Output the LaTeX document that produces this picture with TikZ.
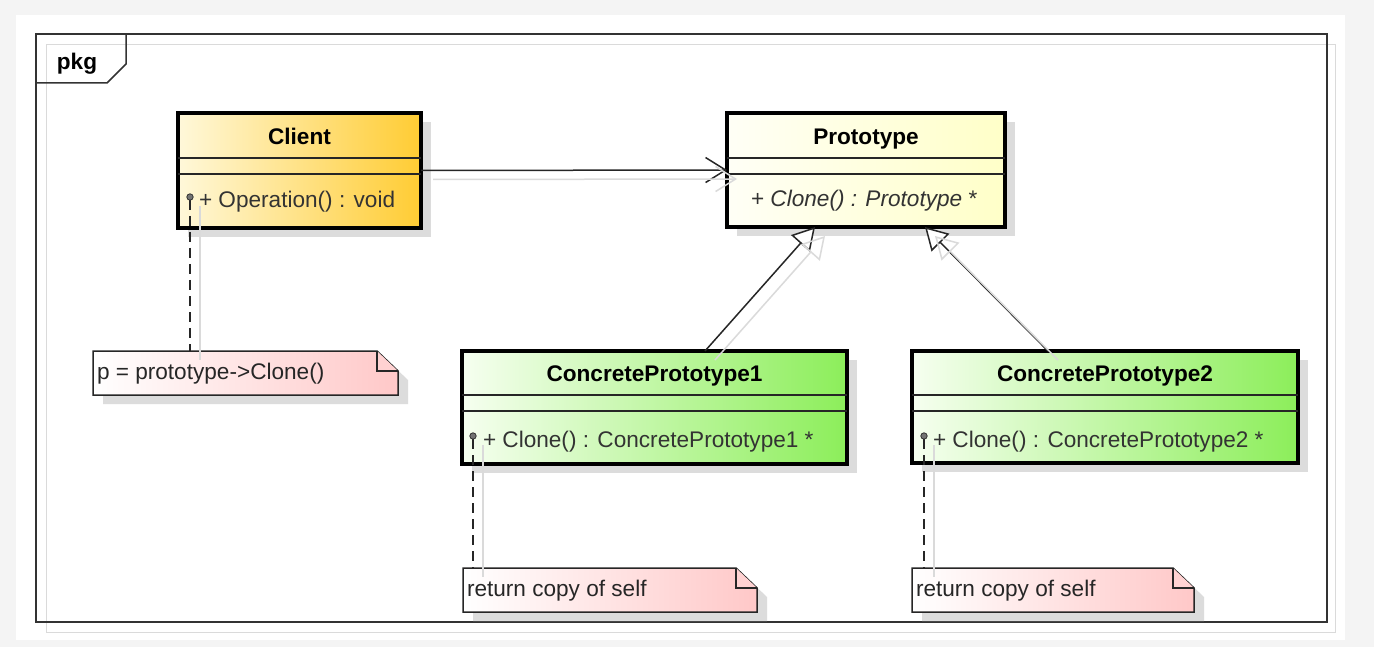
\documentclass[tikz,border=0pt]{standalone}
\usepackage{fontspec}
\setmainfont{Liberation Sans}
\usetikzlibrary{arrows.meta,shadows,calc}
\definecolor{bggray}{HTML}{F4F4F4}
\definecolor{shadowgray}{HTML}{DCDCDC}
\definecolor{lineshadow}{HTML}{DADADA}
\definecolor{frameline}{HTML}{333333}
\definecolor{clientL}{HTML}{FFF8DA}
\definecolor{clientR}{HTML}{FFCC33}
\definecolor{protoL}{HTML}{FFFFF6}
\definecolor{protoR}{HTML}{FFFFC8}
\definecolor{cpL}{HTML}{F6FFF0}
\definecolor{cpR}{HTML}{8CEE5A}
\definecolor{noteR}{HTML}{FFC8C8}
\definecolor{noteFold}{HTML}{FFD2D2}
\definecolor{optext}{HTML}{333333}
\newcommand\umlnote[6]{%
  \fill[shadowgray] (#2+10,#3+9) -- (#4-11,#3+9) -- (#4+10,#3+29) -- (#4+10,#5+9) -- (#2+10,#5+9) -- cycle;
  \node[anchor=north west, minimum width=#4pt-#2pt, minimum height=#5pt-#3pt] (#1) at (#2,#3) {};
  \shadedraw[left color=white, right color=noteR, draw=black!85, line width=1.5pt]
    (#1.north west) -- ([xshift=-21pt]#1.north east) -- ([yshift=-20pt]#1.north east)
    -- (#1.south east) -- (#1.south west) -- cycle;
  \filldraw[fill=noteFold, draw=black!85, line width=1.5pt]
    ([xshift=-21pt]#1.north east) -- ([xshift=-21pt,yshift=-20pt]#1.north east) -- ([yshift=-20pt]#1.north east);
  \node[anchor=base west, text=black!85] (#1-text) at (#2+4,#3+28.5) {#6};
}
\begin{document}
\begin{tikzpicture}[x=1pt,y=-1pt,
  every node/.style={inner sep=0pt, outer sep=0pt},
  font=\fontsize{22.6pt}{26pt}\selectfont,
  classbox/.style={draw=black, line width=3.5pt, anchor=north west,
    drop shadow={shadow xshift=10pt, shadow yshift=-9pt, fill=shadowgray, opacity=1}},
  comp/.style={line width=1.3pt, draw=black!85},
  title/.style={anchor=base, font=\fontsize{22.6pt}{26pt}\selectfont\bfseries},
  optext/.style={anchor=base west, text=optext},
  conn/.style={line width=1.5pt, draw=black!85},
  lshadow/.style={line width=1.5pt, draw=lineshadow},
  dashconn/.style={line width=1.5pt, dash pattern=on 10pt off 6pt, draw=black!85},
  assoc/.style={conn, -{Straight Barb[length=20pt,width=25pt,line width=1.5pt]}},
  gen/.style={conn, -{Triangle[length=22pt,width=25pt,fill=white,line width=1.5pt]}},
  pin/.style={draw=black!80, fill=black!55, line width=0.8pt},
]
\useasboundingbox (0,0) rectangle (1374,647);
\fill[bggray] (0,0) rectangle (1374,647);
\fill[white] (16,15) rectangle (1345,640);

% package frame
\draw[lineshadow] (46,44) rectangle (1335,632);
\node[draw=frameline, line width=1.5pt, anchor=north west, minimum width=1291pt, minimum height=588pt] (pkg) at (36,34) {};
\draw[frameline, line width=1.5pt] (126,34) -- (126,64) -- (107,83) -- (36,83);
\node[title, anchor=base] (pkglabel) at (77,70) {pkg};

% classes
\node[classbox, left color=clientL, right color=clientR, minimum width=243pt, minimum height=115pt] (client) at (178,113) {};
\draw[comp] ([yshift=-45pt]client.north west) -- ([yshift=-45pt]client.north east);
\draw[comp] ([yshift=-61pt]client.north west) -- ([yshift=-61pt]client.north east);
\node[title] (client-title) at (299.5,145) {Client};
\node[optext] (client-op) at (199,208) {+ Operation() : void};

\node[classbox, left color=protoL, right color=protoR, minimum width=278pt, minimum height=114pt] (proto) at (727,113) {};
\draw[comp] ([yshift=-45pt]proto.north west) -- ([yshift=-45pt]proto.north east);
\draw[comp] ([yshift=-61pt]proto.north west) -- ([yshift=-61pt]proto.north east);
\node[title] (proto-title) at (866,145) {Prototype};
\node[optext] (proto-op) at (751,207) {+ \textit{Clone() : Prototype} *};

\node[classbox, left color=cpL, right color=cpR, minimum width=385pt, minimum height=113pt] (cp1) at (462,351) {};
\draw[comp] ([yshift=-44pt]cp1.north west) -- ([yshift=-44pt]cp1.north east);
\draw[comp] ([yshift=-60pt]cp1.north west) -- ([yshift=-60pt]cp1.north east);
\node[title] (cp1-title) at (654.5,381) {ConcretePrototype1};
\node[optext] (cp1-op) at (483,447) {+ Clone() : ConcretePrototype1 *};

\node[classbox, left color=cpL, right color=cpR, minimum width=386pt, minimum height=112pt] (cp2) at (912,351) {};
\draw[comp] ([yshift=-44pt]cp2.north west) -- ([yshift=-44pt]cp2.north east);
\draw[comp] ([yshift=-60pt]cp2.north west) -- ([yshift=-60pt]cp2.north east);
\node[title] (cp2-title) at (1105,381) {ConcretePrototype2};
\node[optext] (cp2-op) at (933,447) {+ Clone() : ConcretePrototype2 *};

% association
\draw[assoc] (client.east) -- (proto.west);

% generalizations
\draw[gen] ([xshift=50.5pt]cp1.north) -- ([xshift=-51pt]proto.south);
\draw[gen] ([xshift=-57pt]cp2.north) -- ([xshift=59pt]proto.south);

% notes
\umlnote{note1}{93}{351}{398}{395}{p = prototype->Clone()}
\umlnote{note2}{463}{568}{757}{612}{return copy of self}
\umlnote{note3}{912}{568}{1194}{612}{return copy of self}

% pins and note anchors
\coordinate (pin1) at (190,197);
\coordinate (pin2) at (473,436);
\coordinate (pin3) at (924,436);
\draw[dashconn] ([yshift=-3pt]pin1) -- (pin1 |- note1.north);
\draw[dashconn] ([yshift=-3pt]pin2) -- (pin2 |- note2.north);
\draw[dashconn] ([yshift=-3pt]pin3) -- (pin3 |- note3.north);
\draw[pin] (pin1) circle (3.2pt);
\draw[pin] (pin2) circle (3.2pt);
\draw[pin] (pin3) circle (3.2pt);

% line shadows
\draw[lshadow] ([xshift=10pt,yshift=-9pt]pin1) -- ([xshift=10pt,yshift=-9pt]pin1 |- note1.north);
\draw[lshadow] ([xshift=10pt,yshift=-9pt]pin2) -- ([xshift=10pt,yshift=-9pt]pin2 |- note2.north);
\draw[lshadow] ([xshift=10pt,yshift=-9pt]pin3) -- ([xshift=10pt,yshift=-9pt]pin3 |- note3.north);
\draw[lshadow, -{Straight Barb[length=20pt,width=25pt,line width=1.5pt]}] ([xshift=12pt,yshift=-9pt]client.east) -- ([xshift=10pt,yshift=-9pt]proto.west);
\draw[lshadow, -{Triangle[length=22pt,width=25pt,open,line width=1.5pt]}] ([xshift=60.5pt,yshift=-9pt]cp1.north) -- ([xshift=-41pt,yshift=-9pt]proto.south);
\draw[lshadow, -{Triangle[length=22pt,width=25pt,open,line width=1.5pt]}] ([xshift=-47pt,yshift=-9pt]cp2.north) -- ([xshift=69pt,yshift=-9pt]proto.south);
\end{tikzpicture}
\end{document}
